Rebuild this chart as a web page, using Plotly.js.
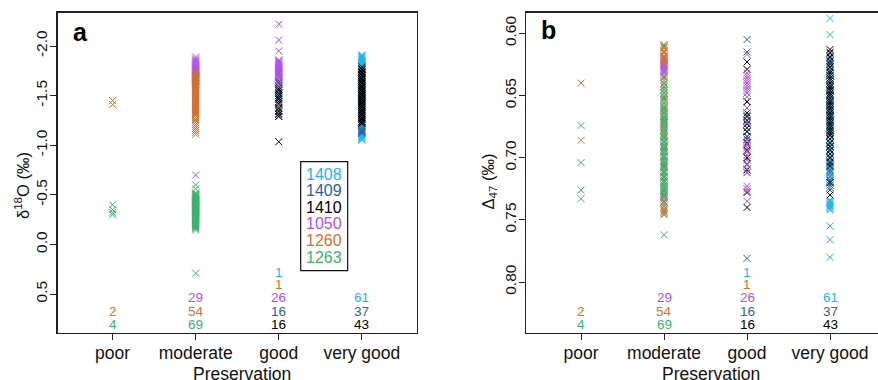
<!DOCTYPE html>
<html><head><meta charset="utf-8">
<script src="https://cdn.plot.ly/plotly-3.0.1.min.js"></script>
<style>html,body{margin:0;padding:0;background:#fff;overflow:hidden}#chart{width:878px;height:380px}</style>
</head><body><div id="chart"></div>
<script>
// ---------------- data ----------------
const categories = ["poor", "moderate", "good", "very good"];
const sites = ["1408", "1409", "1410", "1050", "1260", "1263"];
const yTicksA = [-2.0, -1.5, -1.0, -0.5, 0.0, 0.5];
const yTicksB = [0.60, 0.65, 0.70, 0.75, 0.80];

// Site 1263
const d18O_1263_poor = [-0.40, -0.35, -0.32, -0.30];
const D47_1263_poor = [0.674, 0.704, 0.726, 0.733];
const d18O_1263_moderate = [-0.60, -0.56, -0.52, -0.51, -0.50, -0.50, -0.49, -0.48, -0.48, -0.47,
  -0.46, -0.46, -0.45, -0.44, -0.44, -0.43, -0.42, -0.42, -0.41, -0.40,
  -0.40, -0.39, -0.39, -0.38, -0.38, -0.37, -0.37, -0.36, -0.36, -0.35,
  -0.35, -0.34, -0.34, -0.33, -0.33, -0.32, -0.32, -0.31, -0.31, -0.30,
  -0.30, -0.29, -0.29, -0.28, -0.28, -0.27, -0.27, -0.26, -0.26, -0.25,
  -0.25, -0.24, -0.24, -0.23, -0.23, -0.22, -0.22, -0.21, -0.21, -0.20,
  -0.20, -0.19, -0.19, -0.18, -0.17, -0.16, -0.145, -0.44, 0.29];
const D47_1263_moderate = [0.609, 0.635, 0.638, 0.641, 0.643, 0.646, 0.648, 0.650, 0.652, 0.654,
  0.656, 0.658, 0.660, 0.662, 0.663, 0.665, 0.667, 0.668, 0.670, 0.671,
  0.673, 0.674, 0.676, 0.677, 0.679, 0.680, 0.682, 0.683, 0.684, 0.686,
  0.687, 0.688, 0.690, 0.691, 0.692, 0.694, 0.695, 0.696, 0.698, 0.699,
  0.700, 0.702, 0.703, 0.704, 0.706, 0.707, 0.708, 0.710, 0.711, 0.712,
  0.714, 0.715, 0.716, 0.718, 0.719, 0.720, 0.722, 0.723, 0.725, 0.726,
  0.727, 0.729, 0.730, 0.731, 0.735, 0.739, 0.746, 0.762, 0.669];

// Site 1260
const d18O_1260_poor = [-1.45, -1.41];
const D47_1260_poor = [0.640, 0.686];
const d18O_1260_moderate = [-1.75, -1.73, -1.72, -1.70, -1.69, -1.68, -1.67, -1.66, -1.65, -1.64,
  -1.63, -1.62, -1.61, -1.60, -1.59, -1.58, -1.57, -1.56, -1.55, -1.54,
  -1.53, -1.52, -1.51, -1.50, -1.49, -1.48, -1.47, -1.46, -1.45, -1.44,
  -1.43, -1.42, -1.41, -1.40, -1.39, -1.38, -1.37, -1.36, -1.35, -1.34,
  -1.33, -1.32, -1.31, -1.30, -1.28, -1.26, -1.25, -1.23, -1.21, -1.19,
  -1.17, -1.15, -1.13, -1.11];
const D47_1260_moderate = [0.610, 0.611, 0.612, 0.614, 0.615, 0.616, 0.618, 0.619, 0.620, 0.622,
  0.623, 0.625, 0.636, 0.640, 0.643, 0.645, 0.648, 0.651, 0.653, 0.656,
  0.659, 0.661, 0.664, 0.667, 0.670, 0.672, 0.675, 0.678, 0.681, 0.684,
  0.687, 0.690, 0.693, 0.696, 0.699, 0.702, 0.705, 0.708, 0.712, 0.716,
  0.720, 0.724, 0.727, 0.729, 0.731, 0.733, 0.735, 0.737, 0.739, 0.741,
  0.742, 0.743, 0.744, 0.745];
const d18O_1260_good = [-1.40];
const D47_1260_good = [0.695];

// Site 1050
const d18O_1050_moderate = [-1.89, -1.87, -1.86, -1.85, -1.84, -1.83, -1.82, -1.81, -1.80, -1.79,
  -1.78, -1.77, -1.76, -1.76, -1.75, -1.74, -1.73, -1.72, -1.71, -1.70,
  -1.69, -1.68, -1.67, -1.66, -1.65, -1.62, -1.59, -1.55, -0.70];
const D47_1050_moderate = [0.619, 0.620, 0.621, 0.622, 0.623, 0.624, 0.625, 0.626, 0.627, 0.628,
  0.629, 0.630, 0.631, 0.632, 0.634, 0.648, 0.660, 0.672, 0.684, 0.692,
  0.700, 0.707, 0.712, 0.718, 0.722, 0.726, 0.729, 0.732, 0.736];
const d18O_1050_good = [-2.22, -2.06, -1.95, -1.86, -1.85, -1.84, -1.83, -1.82, -1.81, -1.80,
  -1.79, -1.78, -1.77, -1.76, -1.75, -1.74, -1.73, -1.72, -1.71, -1.70,
  -1.69, -1.68, -1.66, -1.64, -1.62, -1.60];
const D47_1050_good = [0.617, 0.632, 0.634, 0.636, 0.638, 0.640, 0.642, 0.644, 0.646, 0.648,
  0.651, 0.660, 0.672, 0.686, 0.689, 0.692, 0.695, 0.698, 0.702, 0.706,
  0.709, 0.712, 0.723, 0.725, 0.727, 0.735];

// Site 1410
const d18O_1410_good = [-1.63, -1.60, -1.57, -1.55, -1.52, -1.50, -1.48, -1.46, -1.44, -1.42,
  -1.40, -1.37, -1.34, -1.31, -1.29, -1.035];
const D47_1410_good = [0.623, 0.629, 0.655, 0.664, 0.667, 0.670, 0.673, 0.676, 0.679, 0.683,
  0.688, 0.694, 0.700, 0.710, 0.728, 0.740];
const d18O_1410_verygood = [-1.79, -1.77, -1.76, -1.74, -1.73, -1.71, -1.70, -1.68, -1.67, -1.66,
  -1.64, -1.63, -1.62, -1.60, -1.59, -1.58, -1.56, -1.55, -1.54, -1.52,
  -1.51, -1.50, -1.48, -1.47, -1.46, -1.44, -1.43, -1.42, -1.40, -1.39,
  -1.38, -1.36, -1.35, -1.34, -1.32, -1.31, -1.30, -1.28, -1.27, -1.26,
  -1.24, -1.23, -1.22];
const D47_1410_verygood = [0.613, 0.616, 0.619, 0.622, 0.625, 0.627, 0.630, 0.632, 0.634, 0.636,
  0.638, 0.640, 0.642, 0.644, 0.646, 0.648, 0.650, 0.652, 0.654, 0.656,
  0.658, 0.660, 0.662, 0.664, 0.666, 0.668, 0.670, 0.672, 0.674, 0.676,
  0.678, 0.680, 0.682, 0.685, 0.688, 0.691, 0.694, 0.697, 0.700, 0.704,
  0.707, 0.720, 0.730];

// Site 1409
const d18O_1409_good = [-1.74, -1.71, -1.68, -1.65, -1.62, -1.59, -1.56, -1.53, -1.50, -1.47,
  -1.44, -1.41, -1.38, -1.35, -1.32, -1.29];
const D47_1409_good = [0.605, 0.615, 0.640, 0.648, 0.655, 0.660, 0.666, 0.672, 0.679, 0.685,
  0.690, 0.695, 0.700, 0.705, 0.712, 0.781];
const d18O_1409_verygood = [-1.76, -1.74, -1.72, -1.70, -1.68, -1.66, -1.64, -1.62, -1.60, -1.58,
  -1.56, -1.54, -1.52, -1.50, -1.48, -1.47, -1.46, -1.45, -1.44, -1.42,
  -1.40, -1.38, -1.36, -1.34, -1.32, -1.30, -1.28, -1.26, -1.24, -1.22,
  -1.20, -1.18, -1.16, -1.15, -1.14, -1.13, -1.12];
const D47_1409_verygood = [0.615, 0.620, 0.624, 0.628, 0.632, 0.636, 0.640, 0.643, 0.646, 0.649,
  0.652, 0.655, 0.658, 0.661, 0.664, 0.667, 0.670, 0.673, 0.676, 0.679,
  0.682, 0.685, 0.688, 0.691, 0.694, 0.697, 0.700, 0.703, 0.706, 0.710,
  0.715, 0.718, 0.720, 0.722, 0.724, 0.726, 0.712];

// Site 1408
const d18O_1408_good = [-1.50];
const D47_1408_good = [0.670];
const d18O_1408_verygood = [-1.91, -1.90, -1.89, -1.88, -1.87, -1.86, -1.85, -1.84, -1.83, -1.82,
  -1.81, -1.80, -1.78, -1.76, -1.74, -1.72, -1.70, -1.68, -1.66, -1.64,
  -1.62, -1.60, -1.58, -1.56, -1.54, -1.52, -1.50, -1.49, -1.48, -1.47,
  -1.46, -1.45, -1.44, -1.43, -1.42, -1.41, -1.40, -1.38, -1.36, -1.34,
  -1.32, -1.30, -1.28, -1.26, -1.24, -1.22, -1.20, -1.18, -1.16, -1.15,
  -1.14, -1.13, -1.12, -1.11, -1.10, -1.09, -1.08, -1.07, -1.06, -1.05, -1.53];
const D47_1408_verygood = [0.588, 0.601, 0.618, 0.623, 0.627, 0.631, 0.634, 0.637, 0.640, 0.643,
  0.646, 0.649, 0.651, 0.653, 0.655, 0.657, 0.659, 0.661, 0.663, 0.665,
  0.667, 0.669, 0.671, 0.673, 0.675, 0.677, 0.679, 0.681, 0.683, 0.685,
  0.687, 0.689, 0.691, 0.693, 0.695, 0.697, 0.699, 0.701, 0.703, 0.705,
  0.707, 0.709, 0.711, 0.713, 0.716, 0.719, 0.722, 0.734, 0.735, 0.736,
  0.737, 0.738, 0.739, 0.740, 0.741, 0.742, 0.755, 0.766, 0.780, 0.660, 0.645];

// ---------------- assembly ----------------
const data = {
  "1408": {"good": [d18O_1408_good, D47_1408_good], "very good": [d18O_1408_verygood, D47_1408_verygood]},
  "1409": {"good": [d18O_1409_good, D47_1409_good], "very good": [d18O_1409_verygood, D47_1409_verygood]},
  "1410": {"good": [d18O_1410_good, D47_1410_good], "very good": [d18O_1410_verygood, D47_1410_verygood]},
  "1050": {"moderate": [d18O_1050_moderate, D47_1050_moderate], "good": [d18O_1050_good, D47_1050_good]},
  "1260": {"poor": [d18O_1260_poor, D47_1260_poor], "moderate": [d18O_1260_moderate, D47_1260_moderate], "good": [d18O_1260_good, D47_1260_good]},
  "1263": {"poor": [d18O_1263_poor, D47_1263_poor], "moderate": [d18O_1263_moderate, D47_1263_moderate]}
};
const siteColors = {"1408": "#1DB4F0", "1409": "#2D5E9E", "1410": "#000000", "1050": "#B24FEE", "1260": "#D5702D", "1263": "#3BB26D"};
const countOrder = {
  "poor": ["1263", "1260"],
  "moderate": ["1263", "1260", "1050"],
  "good": ["1410", "1409", "1050", "1260", "1408"],
  "very good": ["1410", "1409", "1408"]
};

const W = 878, H = 380;
const FONT = "Liberation Sans, Arial, Helvetica, sans-serif";
const px = x => x / W, py = y => 1 - y / H;

const traces = [];
sites.forEach(site => {
  categories.forEach(cat => {
    const d = data[site][cat];
    if (!d) return;
    const c = siteColors[site];
    traces.push({type: "scatter", mode: "markers", x: d[0].map(() => cat), y: d[0], xaxis: "x", yaxis: "y",
      marker: {symbol: "x-thin", size: 7, color: c, line: {width: 1, color: c}}, showlegend: false, hoverinfo: "y"});
    traces.push({type: "scatter", mode: "markers", x: d[1].map(() => cat), y: d[1], xaxis: "x2", yaxis: "y2",
      marker: {symbol: "x-thin", size: 7, color: c, line: {width: 1, color: c}}, showlegend: false, hoverinfo: "y"});
  });
});

const ann = [];
const rowY = [324.2, 311.2, 297.5, 284.2, 272.0];
["x", "x2"].forEach(xr => {
  categories.forEach(cat => {
    countOrder[cat].forEach((site, i) => {
      ann.push({xref: xr, x: cat, yref: "paper", y: py(rowY[i]), yanchor: "middle", xanchor: "center",
        text: String(data[site][cat][0].length), showarrow: false,
        font: {family: FONT, size: 13.5, color: siteColors[site]}});
    });
  });
});
// legend (site names)
sites.forEach((site, i) => {
  ann.push({xref: "paper", yref: "paper", x: px(323.5), y: py(174.3 + i * 16.55), xanchor: "center", yanchor: "middle",
    text: site, showarrow: false, font: {family: FONT, size: 16, color: siteColors[site]}});
});
// panel letters
ann.push({xref: "paper", yref: "paper", x: px(70.5), y: py(32.5), xanchor: "left", yanchor: "middle", text: "<b>a</b>", showarrow: false, font: {family: FONT, size: 25, color: "#000"}});
ann.push({xref: "paper", yref: "paper", x: px(538.5), y: py(30), xanchor: "left", yanchor: "middle", text: "<b>b</b>", showarrow: false, font: {family: FONT, size: 25, color: "#000"}});
// axis titles
ann.push({xref: "paper", yref: "paper", x: px(242.5), y: py(373.5), xanchor: "center", yanchor: "middle", text: "Preservation", showarrow: false, font: {family: FONT, size: 17.5, color: "#111"}});
ann.push({xref: "paper", yref: "paper", x: px(711), y: py(373.5), xanchor: "center", yanchor: "middle", text: "Preservation", showarrow: false, font: {family: FONT, size: 17.5, color: "#111"}});
ann.push({xref: "paper", yref: "paper", x: px(22), y: py(186), xanchor: "center", yanchor: "middle", textangle: -90, text: "δ<sup>18</sup>O (‰)", showarrow: false, font: {family: FONT, size: 16.5, color: "#111"}});
ann.push({xref: "paper", yref: "paper", x: px(488.5), y: py(182), xanchor: "center", yanchor: "middle", textangle: -90, text: "Δ<sub>47</sub> (‰)", showarrow: false, font: {family: FONT, size: 16.5, color: "#111"}});

const shapes = [{type: "rect", xref: "paper", yref: "paper", x0: px(300.7), x1: px(347.7), y0: py(270.7), y1: py(161.7), line: {color: "#111", width: 1.2}, fillcolor: "rgba(0,0,0,0)"}];

const xCommon = {type: "category", categoryorder: "array", categoryarray: categories, showgrid: false, zeroline: false,
  showline: true, linecolor: "#222", linewidth: 1.3, mirror: true, ticks: "outside", ticklen: 6, tickcolor: "#222",
  ticklabelstandoff: -2, tickfont: {family: FONT, size: 17.5, color: "#111"}, anchor: "y"};
const yCommon = {showgrid: false, zeroline: false, showline: true, linecolor: "#222", linewidth: 1.3, ticks: "outside", ticklen: 6,
  tickcolor: "#222", tickangle: -90, ticklabelstandoff: -3, tickfont: {family: FONT, size: 15.5, color: "#111"}, tickmode: "array"};

const layout = {
  width: W, height: H, margin: {l: 0, r: 0, t: 0, b: 0}, paper_bgcolor: "#fff", plot_bgcolor: "#fff",
  showlegend: false, font: {family: FONT},
  xaxis: Object.assign({}, xCommon, {domain: [px(57.7), px(416.7)], range: [-0.66, 3.66], anchor: "y"}),
  yaxis: Object.assign({}, yCommon, {domain: [py(333), py(12.7)], range: [0.893, -2.336], mirror: true,
    tickvals: yTicksA, ticktext: yTicksA.map(v => v.toFixed(1)), anchor: "x"}),
  xaxis2: Object.assign({}, xCommon, {domain: [px(526), 1], range: [-0.663, 3.578], anchor: "y2"}),
  yaxis2: Object.assign({}, yCommon, {domain: [py(333), py(12.7)], range: [0.841, 0.5834], mirror: false,
    tickvals: yTicksB, ticktext: yTicksB.map(v => v.toFixed(2)), anchor: "x2"}),
  annotations: ann, shapes: shapes
};
Plotly.newPlot("chart", traces, layout, {displayModeBar: false, staticPlot: true});
</script></body></html>
